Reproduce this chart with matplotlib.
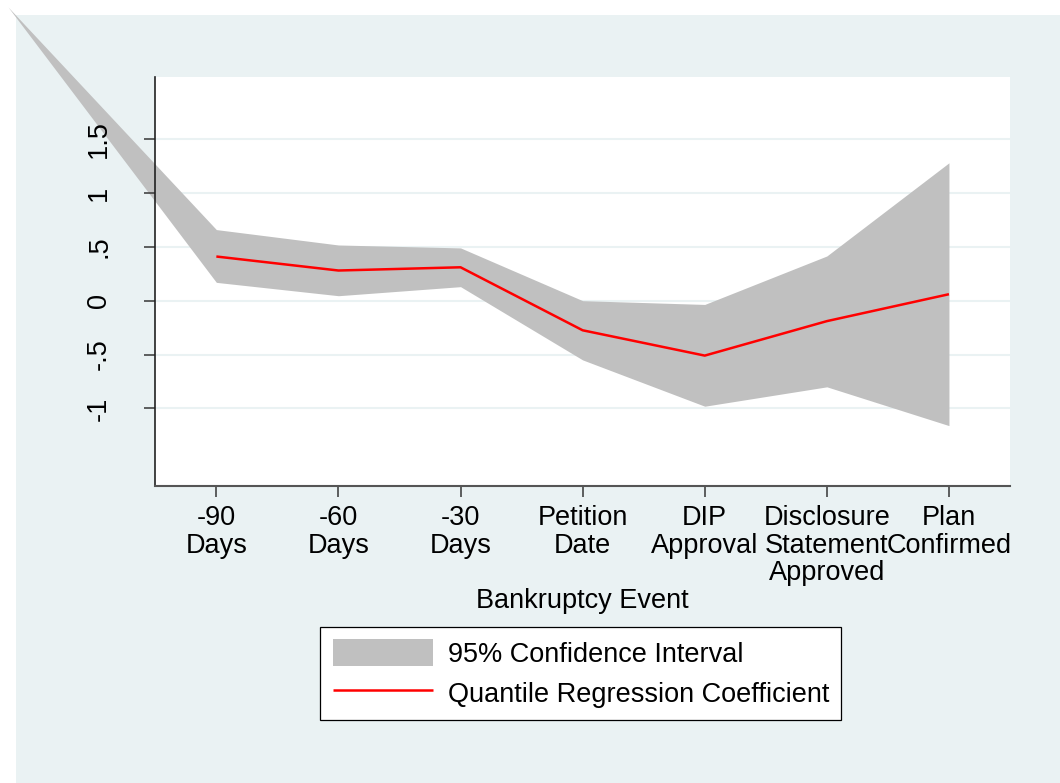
import numpy as np
import matplotlib
matplotlib.use("Agg")
import matplotlib.pyplot as plt
from matplotlib.patches import Rectangle

# ---- data ----
events = ["-90\nDays", "-60\nDays", "-30\nDays", "Petition\nDate",
          "DIP\nApproval", "Disclosure\nStatement\nApproved", "Plan\nConfirmed"]
coef = [0.41, 0.28, 0.31, -0.275, -0.51, -0.19, 0.06]
ci_upper = [0.66, 0.517, 0.49, 0.00, -0.035, 0.415, 1.28]
ci_lower = [0.17, 0.046, 0.13, -0.55, -0.98, -0.80, -1.16]
# leading CI point lying left of the plot region (drawn outside, as in the original)
ci_lead_x = -0.706
ci_lead_upper = 2.727
ci_lead_lower = 2.727

ytick_vals = [-1, -0.5, 0, 0.5, 1, 1.5]
ytick_labels = ["-1", "-.5", "0", ".5", "1", "1.5"]

plt.rcParams['font.family'] = ['Liberation Sans', 'DejaVu Sans']
FS = 19.5

W, H = 1060, 783
fig = plt.figure(figsize=(W / 100, H / 100), dpi=100, facecolor='white')
BG = '#EAF2F3'
fig.patches.append(Rectangle((16 / W, 0), 1 - 16 / W, 1 - 15 / H,
                             transform=fig.transFigure, facecolor=BG,
                             edgecolor='none', zorder=-10))

left, right, top, bottom = 155.3, 1010, 77.3, 485.7
ax = fig.add_axes([left / W, 1 - bottom / H, (right - left) / W, (bottom - top) / H])
ax.set_facecolor('white')

x = np.arange(1, len(events) + 1)
band_x = np.concatenate([[ci_lead_x], x])
band_lo = np.concatenate([[ci_lead_lower], ci_lower])
band_hi = np.concatenate([[ci_lead_upper], ci_upper])

# horizontal grid lines (below the band)
for yv in ytick_vals:
    ax.axhline(yv, color=BG, linewidth=1.5, zorder=0.5)

band = ax.fill_between(band_x, band_lo, band_hi, color='#C0C0C0', linewidth=0,
                       clip_on=False, zorder=1, label='95% Confidence Interval')
line, = ax.plot(x, coef, color='#FF0000', linewidth=1.8, zorder=2,
                label='Quantile Regression Coefficient', solid_capstyle='butt')

ax.set_xlim(0.5, 7.5)
ax.set_ylim(-1.718, 2.074)

ax.set_xticks(x)
ax.set_xticklabels(events, fontsize=FS, linespacing=1.08)
ax.set_yticks(ytick_vals)
ax.set_yticklabels(ytick_labels, fontsize=FS, rotation=90, va='center')
ax.grid(False)

for s in ['top', 'right']:
    ax.spines[s].set_visible(False)
ax.spines['left'].set_color('#222222')
ax.spines['bottom'].set_color('#555555')
ax.spines['left'].set_linewidth(1.2)
ax.spines['bottom'].set_linewidth(1.5)

ax.tick_params(axis='both', direction='out', length=8, width=1.2, color='#444444')
ax.tick_params(axis='x', pad=6)
ax.tick_params(axis='y', pad=23)

ax.set_xlabel('Bankruptcy Event', fontsize=FS, va='baseline')
ax.xaxis.set_label_coords(0.5, -0.2995)

leg = fig.legend(handles=[band, line], loc='upper left',
                 bbox_to_anchor=(320.4 / W, 1 - 626.8 / H), borderaxespad=0,
                 fontsize=FS, frameon=True, fancybox=False, shadow=False,
                 handlelength=3.7, handleheight=1.15, handletextpad=0.55,
                 labelspacing=0.42, borderpad=0.45)
fr = leg.get_frame()
fr.set_edgecolor('black')
fr.set_linewidth(0.9)
fr.set_facecolor('white')
fr.set_alpha(1)

fig.savefig('out.png', dpi=100, facecolor='white')
